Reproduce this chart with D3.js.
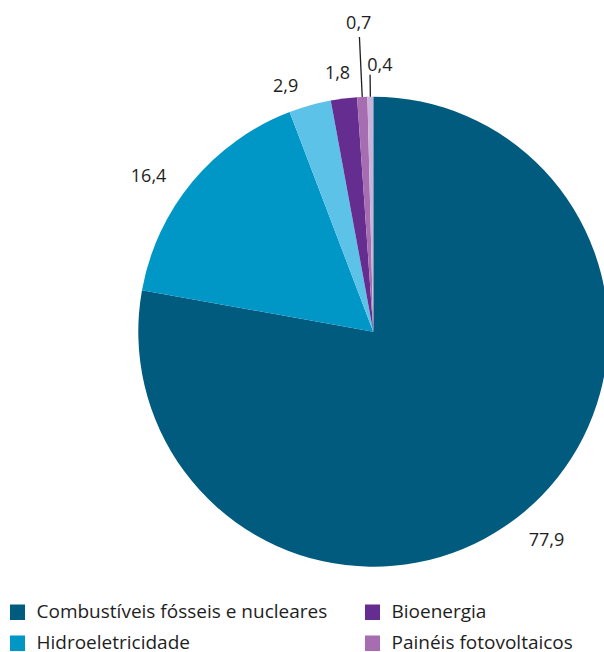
<!DOCTYPE html>
<html>
<head>
<meta charset="utf-8">
<script src="https://cdn.jsdelivr.net/npm/d3@7"></script>
<style>
  html, body { margin: 0; padding: 0; background: #fff; }
  svg { display: block; }
  text { font-family: "Open Sans", "Noto Sans", sans-serif; fill: #1e1e1e; }
</style>
</head>
<body>
<svg id="chart" width="604" height="652"></svg>
<script>
// Shares of electricity generation by source (%)
const categories = [
  "Combustíveis fósseis e nucleares",
  "Hidroeletricidade",
  "Eólica",
  "Bioenergia",
  "Painéis fotovoltaicos",
  "Outras"
];
const values = [77.9, 16.4, 2.9, 1.8, 0.7, 0.4];
const valueLabels = ["77,9", "16,4", "2,9", "1,8", "0,7", "0,4"];
const colors = ["#005b7f", "#0096c6", "#5dc2e8", "#662d91", "#a66eb0", "#c9b3da"];
const legendItems = [
  "Combustíveis fósseis e nucleares",
  "Hidroeletricidade",
  "Bioenergia",
  "Painéis fotovoltaicos"
];

const svg = d3.select("#chart");
const cx = 373.3, cy = 331.7, radius = 235;

const color = d3.scaleOrdinal().domain(categories).range(colors);

const data = categories.map((c, i) => ({ name: c, value: values[i], label: valueLabels[i] }));

const pie = d3.pie().sort(null).value(d => d.value);
const arcs = pie(data);

const arc = d3.arc().innerRadius(0).outerRadius(radius);

const g = svg.append("g").attr("transform", `translate(${cx},${cy})`);

g.selectAll("path.slice")
  .data(arcs)
  .join("path")
  .attr("class", "slice")
  .attr("d", arc)
  .attr("fill", d => color(d.data.name));

// label layout: radius from centre, optional leader line, small nudges
const layout = {
  "77,9": { r: 270, dx: 0, dy: 0 },
  "16,4": { r: 262, dx: -23, dy: 10 },
  "2,9":  { r: 262, dx: -17, dy: 6 },
  "1,8":  { r: 262, dx: -3, dy: 0 },
  "0,7":  { r: 310, dx: 0, dy: 0, leader: 295 },
  "0,4":  { r: 268, dx: 10, dy: 0, leader: 257 }
};

const polar = (angle, r) => [Math.sin(angle) * r, -Math.cos(angle) * r];

arcs.forEach(d => {
  const mid = (d.startAngle + d.endAngle) / 2;
  const L = layout[d.data.label];
  if (L.leader) {
    const p0 = polar(mid, radius);
    const p1 = polar(mid, L.leader);
    g.append("line")
      .attr("x1", p0[0]).attr("y1", p0[1])
      .attr("x2", p1[0]).attr("y2", p1[1])
      .attr("stroke", "#1e1e1e")
      .attr("stroke-width", 1.3);
  }
  const p = polar(mid, L.r);
  g.append("text")
    .attr("x", p[0] + L.dx)
    .attr("y", p[1] + L.dy)
    .attr("text-anchor", "middle")
    .attr("dominant-baseline", "central")
    .style("font-size", "18px")
    .text(d.data.label);
});

// legend: two columns, two rows
const legend = svg.append("g");
const colX = [10, 365];
const rowY = [604.5, 635.5];
legendItems.forEach((name, i) => {
  const col = Math.floor(i / 2), row = i % 2;
  const item = legend.append("g")
    .attr("transform", `translate(${colX[col]},${rowY[row]})`);
  item.append("rect")
    .attr("width", 15).attr("height", 15.5)
    .attr("fill", color(name));
  item.append("text")
    .attr("x", 26.5)
    .attr("y", 13.5)
    .style("font-size", "19px")
    .text(name);
});
</script>
</body>
</html>
